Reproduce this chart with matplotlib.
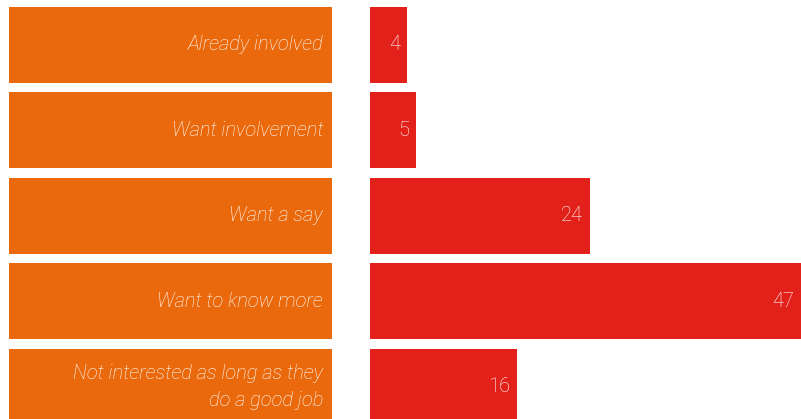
import matplotlib.pyplot as plt

categories = [
    "Already involved",
    "Want involvement",
    "Want a say",
    "Want to know more",
    "Not interested as long as they\ndo a good job",
]
values = [4, 5, 24, 47, 16]

ORANGE = "#E9690C"
RED = "#E2211A"
FONT = dict(family="Roboto", weight="light", color="white", fontsize=14.5)

W, H = 801, 419
fig = plt.figure(figsize=(W / 100, H / 100), dpi=100)

# rows are 85.5 px apart, boxes 76 px tall, first box starts 7 px from top
pitch = 85.5
first_center = 45
ylim = ((H - first_center) / pitch, -first_center / pitch)
bar_h = 76 / pitch

rows = list(range(len(categories)))

label_ax = fig.add_axes([9 / W, 0, (332 - 9) / W, 1])
label_ax.barh(rows, [1] * len(rows), height=bar_h, color=ORANGE, left=0)
label_ax.set_xlim(0, 1)
label_ax.set_ylim(*ylim)
label_ax.axis("off")
for y, cat in zip(rows, categories):
    label_ax.text(1 - 9 / (332 - 9), y, cat, ha="right", va="center",
                  style="italic", linespacing=1.5, **FONT)

bar_ax = fig.add_axes([370 / W, 0, (W - 370) / W, 1])
bar_ax.barh(rows, values, height=bar_h, color=RED)
bar_ax.set_xlim(0, max(values))
bar_ax.set_ylim(*ylim)
bar_ax.axis("off")
for y, v in zip(rows, values):
    bar_ax.annotate(str(v), xy=(v, y), xytext=(-5, 0), textcoords="offset points",
                    ha="right", va="center", **FONT)

fig.savefig("out.png", dpi=100)
